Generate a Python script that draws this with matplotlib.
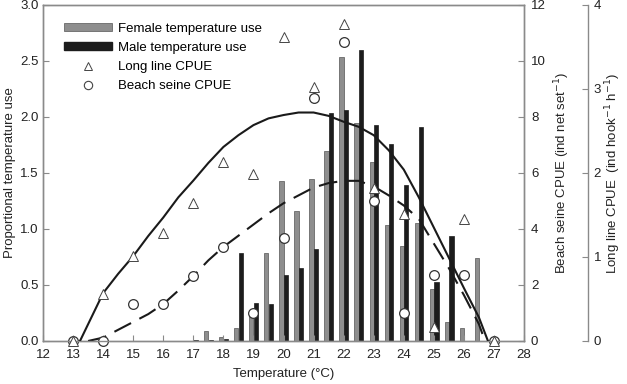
import matplotlib
matplotlib.use("Agg")
import matplotlib.pyplot as plt
from matplotlib.patches import Patch
from matplotlib.lines import Line2D

plt.rcParams['font.family'] = ['Liberation Sans', 'DejaVu Sans']
plt.rcParams['font.size'] = 9.5

# temperature bins (degC) for the proportional temperature use bars
bins = [17.0, 17.5, 18.0, 18.5, 19.0, 19.5, 20.0, 20.5, 21.0, 21.5, 22.0,
        22.5, 23.0, 23.5, 24.0, 24.5, 25.0, 25.5, 26.0, 26.5]
female = [0.0, 0.09, 0.04, 0.12, 0.24, 0.79, 1.43, 1.16, 1.45, 1.70, 2.54,
          1.95, 1.60, 1.04, 0.85, 1.05, 0.46, 0.17, 0.12, 0.74]
male = [0.01, 0.01, 0.02, 0.79, 0.34, 0.33, 0.59, 0.65, 0.82, 2.04, 2.06,
        2.60, 1.93, 1.76, 1.39, 1.91, 0.53, 0.94, 0.0, 0.0]

# CPUE observations per degree
temps = [13, 14, 15, 16, 17, 18, 19, 20, 21, 22, 23, 24, 25, 26, 27]
longline = [0.0, 0.56, 1.01, 1.29, 1.64, 2.13, 1.99, 3.62, 3.02, 3.77, 1.82,
            1.51, 0.17, 1.45, 0.0]
beachseine = [0.0, 0.0, 1.33, 1.33, 2.33, 3.36, 0.99, 3.69, 8.67, 10.68, 5.0,
              1.01, 2.35, 2.35, 0.0]

# fitted curves
ll_fit_x = [13.23, 13.5, 14.0, 14.5, 15.0, 15.5, 16.0, 16.5, 17.0, 17.5, 18.0,
            18.5, 19.0, 19.5, 20.0, 20.5, 21.0, 21.5, 22.0, 22.5, 23.0, 23.5,
            24.0, 24.5, 25.0, 25.5, 26.0, 26.5, 26.8]
ll_fit_y = [0.0, 0.20, 0.57, 0.80, 1.01, 1.25, 1.47, 1.71, 1.91, 2.12, 2.31,
            2.45, 2.57, 2.65, 2.69, 2.72, 2.72, 2.68, 2.61, 2.55, 2.45, 2.27,
            2.04, 1.71, 1.35, 0.99, 0.63, 0.28, 0.0]
bs_fit_x = [13.5, 14.0, 14.5, 15.0, 15.5, 16.0, 16.5, 17.0, 17.5, 18.0, 18.5,
            19.0, 19.5, 20.0, 20.5, 21.0, 21.5, 22.0, 22.5, 23.0, 23.5, 24.0,
            24.5, 25.0, 25.5, 26.0, 26.5, 26.7]
bs_fit_y = [0.0, 0.12, 0.40, 0.68, 0.96, 1.32, 1.80, 2.32, 2.88, 3.36, 3.76,
            4.16, 4.56, 4.92, 5.20, 5.48, 5.64, 5.72, 5.72, 5.52, 5.20, 4.84,
            4.36, 3.48, 2.60, 1.64, 0.60, 0.0]

fig = plt.figure(figsize=(6.27, 3.84), dpi=100)
ax = fig.add_axes([0.0686, 0.112, 0.7672, 0.875])
ax2 = ax.twinx()
ax3 = ax.twinx()

frame = '#8a8a8a'
gray = '#8e8e8e'

ax.bar([b - 0.07 for b in bins], female, width=0.14, color=gray,
       edgecolor='#555555', linewidth=0.5)
ax.bar([b + 0.08 for b in bins], male, width=0.15, color='#1c1c1c',
       edgecolor='#1c1c1c', linewidth=0.5)

ax2.plot(bs_fit_x, bs_fit_y, color='#1a1a1a', lw=1.5, dashes=(9, 4.5))
ax2.plot(temps, beachseine, 'o', ms=7, mfc='white', mec='#333333', mew=0.9,
         clip_on=False)

ax3.plot(ll_fit_x, ll_fit_y, color='#1a1a1a', lw=1.5)
ax3.plot(temps, longline, '^', ms=6.5, mfc='white', mec='#444444', mew=0.7,
         clip_on=False)

ax.set_xlim(12, 28)
ax.set_ylim(0, 3.0)
ax2.set_ylim(0, 12)
ax3.set_ylim(0, 4)
ax.set_xticks(range(12, 29))
ax.set_yticks([0, 0.5, 1.0, 1.5, 2.0, 2.5, 3.0])
ax.set_yticklabels(['0.0', '0.5', '1.0', '1.5', '2.0', '2.5', '3.0'])
ax2.set_yticks(range(0, 13, 2))
ax3.set_yticks(range(0, 5))

for a in (ax, ax2, ax3):
    for s in a.spines.values():
        s.set_color(frame)
        s.set_linewidth(1.0)
    a.tick_params(direction='in', length=4, color=frame, labelcolor='#222222',
                  labelsize=9.5, pad=3)
ax.tick_params(axis='x', pad=5.5)
ax2.tick_params(axis='y', pad=5)
ax3.tick_params(axis='y', pad=4)

ax3.spines['right'].set_position(('axes', 1.133))
for s in ('top', 'bottom', 'left'):
    ax3.spines[s].set_visible(False)

ax.set_xlabel('Temperature (\u00b0C)', fontsize=9.5, color='#222222', labelpad=5)
ax.set_ylabel('Proportional temperature use', fontsize=9.5, color='#222222',
              labelpad=3)
ax2.set_ylabel('Beach seine CPUE (ind net set$^{-1}$)', fontsize=9.5,
               color='#222222', labelpad=5)
ax3.set_ylabel('Long line CPUE  (ind hook$^{-1}$ h$^{-1}$)', fontsize=9.5,
               color='#222222', labelpad=2)

handles = [
    Patch(facecolor=gray, edgecolor='#555555', linewidth=0.5),
    Patch(facecolor='#1c1c1c', edgecolor='#1c1c1c'),
    Line2D([], [], ls='none', marker='^', ms=6, mfc='white', mec='#444444', mew=0.7),
    Line2D([], [], ls='none', marker='o', ms=6, mfc='white', mec='#444444', mew=0.8),
]
labels = ['Female temperature use', 'Male temperature use', 'Long line CPUE',
          'Beach seine CPUE']
ax3.legend(handles, labels, loc='upper left', bbox_to_anchor=(0.025, 0.975),
           frameon=False, fontsize=9.5, handlelength=3.6, handleheight=0.6,
           handletextpad=0.45, labelspacing=0.55, borderpad=0.2)

fig.savefig('out.png', dpi=100)
